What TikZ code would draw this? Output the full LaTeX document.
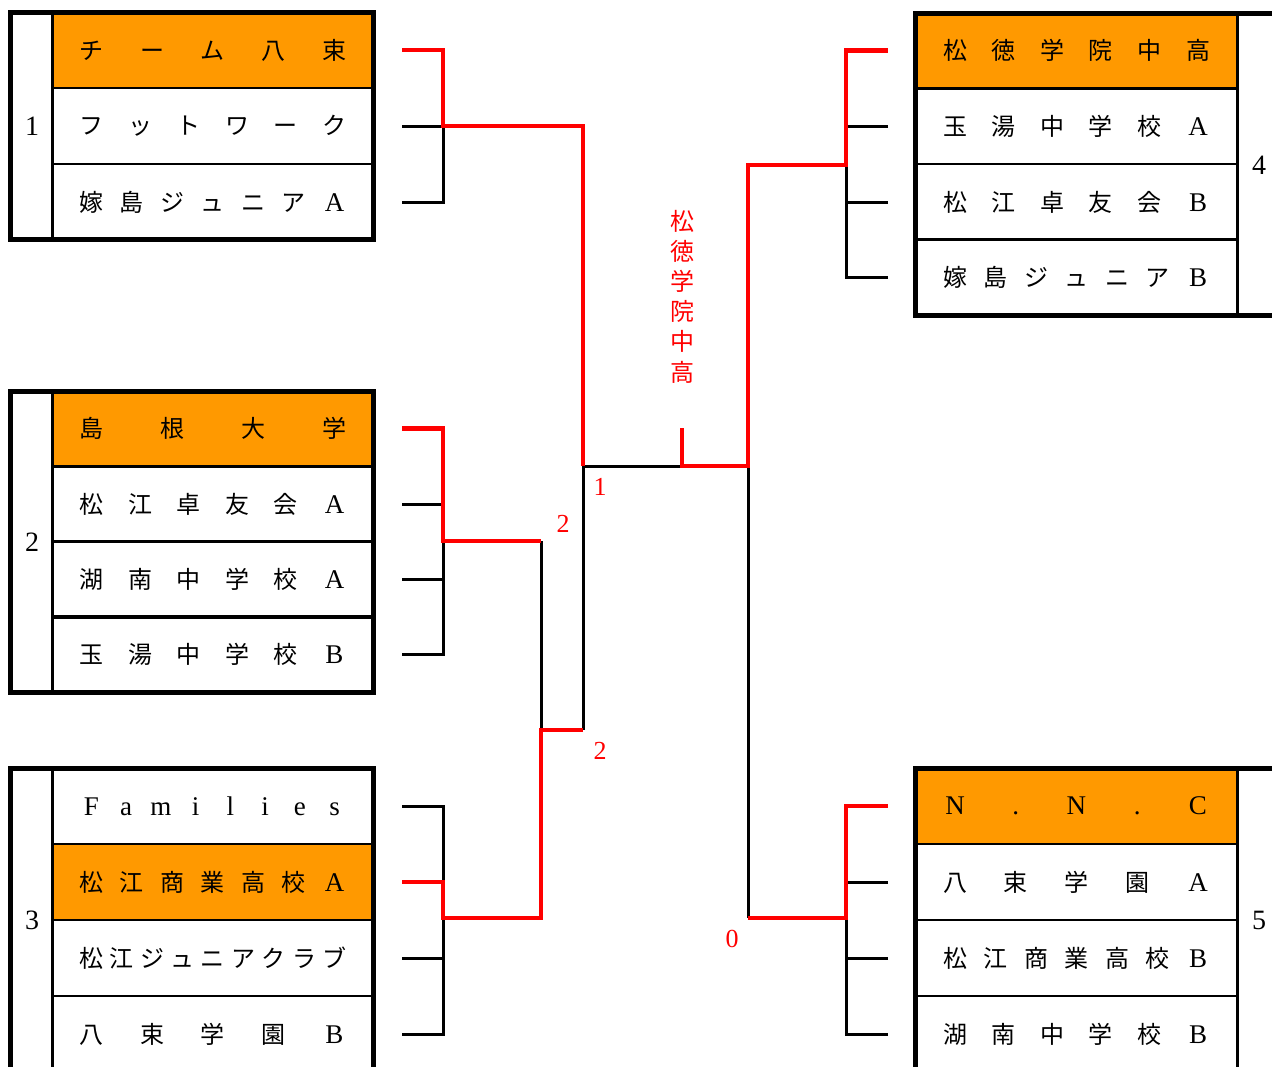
\documentclass[tikz,border=0pt]{standalone}
\usepackage{fontspec}
\setmainfont{Liberation Serif}
\newfontfamily\jp{Noto Sans CJK JP}
\definecolor{tor}{HTML}{FF9900}
\def\dloop#1{\ifx\relax#1\else\hfill\makebox[24pt]{\ifnum`#1<256 \rmfamily\fontsize{27}{28}\selectfont #1\else\jp #1\fi}\expandafter\dloop\fi}
\newcommand\dist[1]{\hbox to 267pt{\hskip 0pt plus -1fill\dloop#1\relax}}
\begin{document}
\begin{tikzpicture}[x=1pt,y=-1pt,
  team/.style={draw, line width=2.8pt, minimum width=321pt, minimum height=76pt, inner sep=0pt, font=\fontsize{24}{28}\selectfont},
  teamr/.style={team, minimum width=322pt},
  frame/.style={draw, line width=5pt},
  sep/.style={draw, line width=3pt},
  blk/.style={draw, line width=3pt},
  redl/.style={draw=red, line width=4.6pt},
  score/.style={text=red, font=\fontsize{26}{28}\selectfont, inner sep=0pt},
  gnum/.style={font=\fontsize{28}{28}\selectfont, inner sep=0pt}]
\clip (0,0) rectangle (1272,1066);
\fill[white] (0,0) rectangle (1272,1066);

% ---------- group 1
\node[team, fill=tor] (g1a) at (213,50) {\dist{チーム八束}};
\node[team] (g1b) at (213,126) {\dist{フットワーク}};
\node[team] (g1c) at (213,202) {\dist{嫁島ジュニアA}};
\draw[sep] (52.5,12.5) -- (52.5,239.5);
\draw[frame] (10.5,12.5) rectangle (373.5,239.5);
\node[gnum] (n1) at (32,126) {1};

% ---------- group 2
\node[team, fill=tor] (g2a) at (213,428.5) {\dist{島根大学}};
\node[team] (g2b) at (213,504) {\dist{松江卓友会A}};
\node[team] (g2c) at (213,579.5) {\dist{湖南中学校A}};
\node[team] (g2d) at (213,654.5) {\dist{玉湯中学校B}};
\draw[sep] (52.5,391) -- (52.5,692);
\draw[frame] (10.5,391) rectangle (373.5,692);
\node[gnum] (n2) at (32,542) {2};

% ---------- group 3
\node[team] (g3a) at (213,806) {\dist{Families}};
\node[team, fill=tor] (g3b) at (213,882) {\dist{松江商業高校A}};
\node[team] (g3c) at (213,958) {\dist{松江ジュニアクラブ}};
\node[team] (g3d) at (213,1034) {\dist{八束学園B}};
\draw[sep] (52.5,768) -- (52.5,1100);
\draw[frame] (10.5,768) rectangle (373.5,1100);
\node[gnum] (n3) at (32,920) {3};

% ---------- group 4
\node[teamr, fill=tor] (g4a) at (1076.5,50.5) {\dist{松徳学院中高}};
\node[teamr] (g4b) at (1076.5,126) {\dist{玉湯中学校A}};
\node[teamr] (g4c) at (1076.5,202) {\dist{松江卓友会B}};
\node[teamr] (g4d) at (1076.5,277.5) {\dist{嫁島ジュニアB}};
\draw[sep] (1237.5,13) -- (1237.5,315);
\draw[frame] (915.5,13) rectangle (1300,315);
\node[gnum] (n4) at (1259,165) {4};

% ---------- group 5
\node[teamr, fill=tor] (g5a) at (1076.5,806) {\dist{N.N.C}};
\node[teamr] (g5b) at (1076.5,882) {\dist{八束学園A}};
\node[teamr] (g5c) at (1076.5,958) {\dist{松江商業高校B}};
\node[teamr] (g5d) at (1076.5,1034) {\dist{湖南中学校B}};
\draw[sep] (1237.5,768) -- (1237.5,1100);
\draw[frame] (915.5,768) rectangle (1300,1100);
\node[gnum] (n5) at (1259,920) {5};

% ---------- bracket coordinates
\coordinate (s11) at (402,50);
\coordinate (s12) at (402,126);
\coordinate (s13) at (402,202);
\coordinate (j1) at (443,126);
\coordinate (m1) at (583,466);

\coordinate (s21) at (402,428.5);
\coordinate (s22) at (402,504);
\coordinate (s23) at (402,579.5);
\coordinate (s24) at (402,654.5);
\coordinate (j2) at (443,541);
\coordinate (k2) at (541,541);
\coordinate (m2) at (541,730);
\coordinate (n2c) at (583,730);

\coordinate (s31) at (402,806);
\coordinate (s32) at (402,882);
\coordinate (s33) at (402,958);
\coordinate (s34) at (402,1034);
\coordinate (j3) at (443,918);

\coordinate (f) at (682,466);
\coordinate (ft) at (682,428);
\coordinate (mr) at (748,466);

\coordinate (s41) at (888,50.5);
\coordinate (s42) at (888,126);
\coordinate (s43) at (888,202);
\coordinate (s44) at (888,277.5);
\coordinate (j4) at (846,165);

\coordinate (s51) at (888,806);
\coordinate (s52) at (888,882);
\coordinate (s53) at (888,958);
\coordinate (s54) at (888,1034);
\coordinate (j5) at (846,918);
\coordinate (m5) at (748,918);

% ---------- black lines
\draw[blk] (s12) -- (s12 -| j1);
\draw[blk] (s13) -| (j1);
\draw[blk] (s22) -- (s22 -| j2);
\draw[blk] (s23) -- (s23 -| j2);
\draw[blk] (s24) -| (j2);
\draw[blk] (k2) -- (m2);
\draw[blk] (n2c) -- (m1) -- (f);
\draw[blk] (s31) -| (j3);
\draw[blk] (s33) -- (s33 -| j3);
\draw[blk] (s34) -| (j3);
\draw[blk] (mr) -- (m5);
\draw[blk] (s42) -- (s42 -| j4);
\draw[blk] (s43) -- (s43 -| j4);
\draw[blk] (s44) -| (j4);
\draw[blk] (s52) -- (s52 -| j5);
\draw[blk] (s53) -- (s53 -| j5);
\draw[blk] (s54) -| (j5);

% ---------- red lines
\draw[redl] (s11) -| (j1) -| (m1);
\draw[redl] (s21) -| (j2) -- (k2);
\draw[redl] (s32) -| (j3) -| (m2) -- (n2c);
\draw[redl] (ft) -- (f) -- (mr) |- (j4) |- (s41);
\draw[redl] (m5) -- (j5) |- (s51);

% ---------- labels
\node[text=red, inner sep=0pt, align=center, font=\jp\fontsize{24}{30.2}\selectfont] (champ) at (682,296.5) {松\\徳\\学\\院\\中\\高};
\node[score] (sc1) at (600,487) {1};
\node[score] (sc2) at (563,524) {2};
\node[score] (sc3) at (600,751) {2};
\node[score] (sc4) at (732,939) {0};
\end{tikzpicture}
\end{document}
